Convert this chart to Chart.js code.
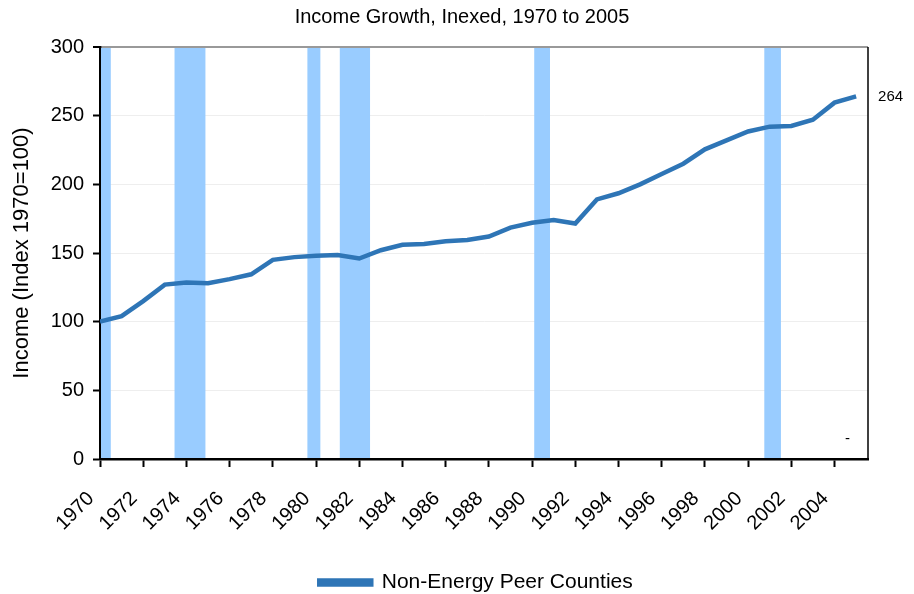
<!DOCTYPE html>
<html lang="en">
    <head>
        <meta charset="UTF-8" />
        <title>Income Growth, Inexed, 1970 to 2005</title>
        <script src="https://cdn.jsdelivr.net/npm/chart.js"></script>
        <style>
            html, body { margin: 0; padding: 0; background: #fff; }
        </style>
    </head>
    <body>
        <canvas id="myChart" width="914" height="594"></canvas>

        <script>
            // years and index values (1970 = 100)
            const years = [
                1970, 1971, 1972, 1973, 1974, 1975, 1976, 1977, 1978, 1979,
                1980, 1981, 1982, 1983, 1984, 1985, 1986, 1987, 1988, 1989,
                1990, 1991, 1992, 1993, 1994, 1995, 1996, 1997, 1998, 1999,
                2000, 2001, 2002, 2003, 2004, 2005,
            ];
            const peerIncome = [
                100, 104, 115, 127, 128.5, 128, 131, 134.5, 145, 147,
                148, 148.5, 146, 152, 156, 156.5, 158.5, 159.5, 162, 168.5,
                172, 174, 171.5, 189, 193.5, 200, 207.5, 215, 225.5, 232,
                238.5, 242, 242.5, 247, 259.5, 264,
            ];

            // recession periods, start and end in fractional years
            const recessionStart = [1970, 1973.45, 1979.6, 1981.1, 1990.1, 2000.75];
            const recessionEnd = [1970.5, 1974.88, 1980.2, 1982.5, 1990.83, 2001.52];

            const xTickLabels = [
                1970, 1972, 1974, 1976, 1978, 1980, 1982, 1984, 1986, 1988,
                1990, 1992, 1994, 1996, 1998, 2000, 2002, 2004,
            ];
            const yTickLabels = [0, 50, 100, 150, 200, 250, 300];

            // stray label that sits in the lower right of the original
            const strayLabel = { x: 2004.6, y: 15, text: "-" };

            const lineColor = "#2E75B6";
            const fontFamily = "'Liberation Sans', Arial, sans-serif";

            const recessionBars = {
                id: "recessionBars",
                afterLayout(chart) {
                    // title and legend sit a bit right of centre in the original
                    if (chart.titleBlock) {
                        chart.titleBlock.left += 28;
                        chart.titleBlock.right += 28;
                    }
                    if (chart.legend) {
                        chart.legend.left += 42;
                        chart.legend.right += 42;
                    }
                },
                beforeDatasetsDraw(chart) {
                    const { ctx, chartArea, scales } = chart;
                    ctx.save();
                    ctx.fillStyle = "#99CCFF";
                    const top = scales.y.getPixelForValue(300) + 1;
                    const bottom = scales.y.getPixelForValue(0) - 1;
                    recessionStart.forEach((s, i) => {
                        const x1 = Math.max(scales.x.getPixelForValue(s), chartArea.left + 1);
                        const x2 = scales.x.getPixelForValue(recessionEnd[i]);
                        ctx.fillRect(x1, top, x2 - x1, bottom - top);
                    });
                    ctx.restore();
                },
                afterDatasetsDraw(chart) {
                    const { ctx, chartArea, scales } = chart;
                    ctx.save();
                    // right frame line
                    ctx.strokeStyle = "#000";
                    ctx.lineWidth = 1.5;
                    ctx.beginPath();
                    ctx.moveTo(chartArea.right, chartArea.top);
                    ctx.lineTo(chartArea.right, chartArea.bottom);
                    ctx.stroke();

                    // end value label
                    const last = peerIncome.length - 1;
                    ctx.fillStyle = "#000";
                    ctx.font = "15px " + fontFamily;
                    ctx.textBaseline = "middle";
                    ctx.textAlign = "left";
                    ctx.fillText(
                        String(peerIncome[last]),
                        scales.x.getPixelForValue(years[last]) + 22,
                        scales.y.getPixelForValue(peerIncome[last])
                    );
                    ctx.textAlign = "center";
                    ctx.fillText(
                        strayLabel.text,
                        scales.x.getPixelForValue(strayLabel.x),
                        scales.y.getPixelForValue(strayLabel.y)
                    );
                    ctx.restore();
                },
            };

            Chart.defaults.font.family = fontFamily;
            Chart.defaults.color = "#000";

            var ctx = document.getElementById("myChart").getContext("2d");
            var myChart = new Chart(ctx, {
                type: "line",
                data: {
                    datasets: [
                        {
                            label: "Non-Energy Peer Counties",
                            data: years.map((y, i) => ({ x: y, y: peerIncome[i] })),
                            borderColor: lineColor,
                            backgroundColor: lineColor,
                            borderWidth: 4.5,
                            pointRadius: 0,
                            fill: false,
                            tension: 0,
                        },
                    ],
                },
                options: {
                    responsive: false,
                    animation: false,
                    layout: { padding: { left: 0, right: 46, top: 0, bottom: -9 } },
                    scales: {
                        x: {
                            type: "linear",
                            min: 1970,
                            max: 2005.55,
                            afterFit(scale) {
                                scale.height = 103;
                            },
                            afterBuildTicks(scale) {
                                scale.ticks = xTickLabels.map((v) => ({ value: v }));
                            },
                            ticks: {
                                font: { size: 20 },
                                minRotation: 45,
                                maxRotation: 45,
                                padding: 20,
                                labelOffset: -9,
                                callback: (v) => String(v),
                            },
                            grid: {
                                drawOnChartArea: false,
                                tickLength: 8,
                                tickColor: "#000",
                                tickWidth: 2,
                            },
                            border: { color: "#000", width: 2.5 },
                        },
                        y: {
                            min: 0,
                            max: 300,
                            afterFit(scale) {
                                scale.width = 100;
                            },
                            afterBuildTicks(scale) {
                                scale.ticks = yTickLabels.map((v) => ({ value: v }));
                            },
                            ticks: {
                                font: { size: 20 },
                                padding: 9,
                            },
                            grid: {
                                color: (c) => (c.tick && c.tick.value === 300 ? "#999" : "#EEEEEE"),
                                lineWidth: (c) => (c.tick && c.tick.value === 300 ? 2 : 1),
                                tickLength: 7,
                                tickColor: "#000",
                                tickWidth: 2,
                            },
                            border: { color: "#000", width: 2.5 },
                            title: {
                                display: true,
                                text: "Income (Index 1970=100)",
                                font: { size: 22 },
                                padding: { top: 9, bottom: 0 },
                            },
                        },
                    },
                    plugins: {
                        title: {
                            display: true,
                            text: "Income Growth, Inexed, 1970 to 2005",
                            font: { size: 20, weight: "normal" },
                            padding: { top: 5, bottom: 18 },
                            color: "#000",
                        },
                        legend: {
                            position: "bottom",
                            labels: {
                                boxWidth: 52,
                                boxHeight: 4,
                                padding: 10,
                                font: { size: 21 },
                                color: "#000",
                            },
                        },
                        tooltip: { enabled: false },
                    },
                },
                plugins: [recessionBars],
            });
        </script>
    </body>
</html>
